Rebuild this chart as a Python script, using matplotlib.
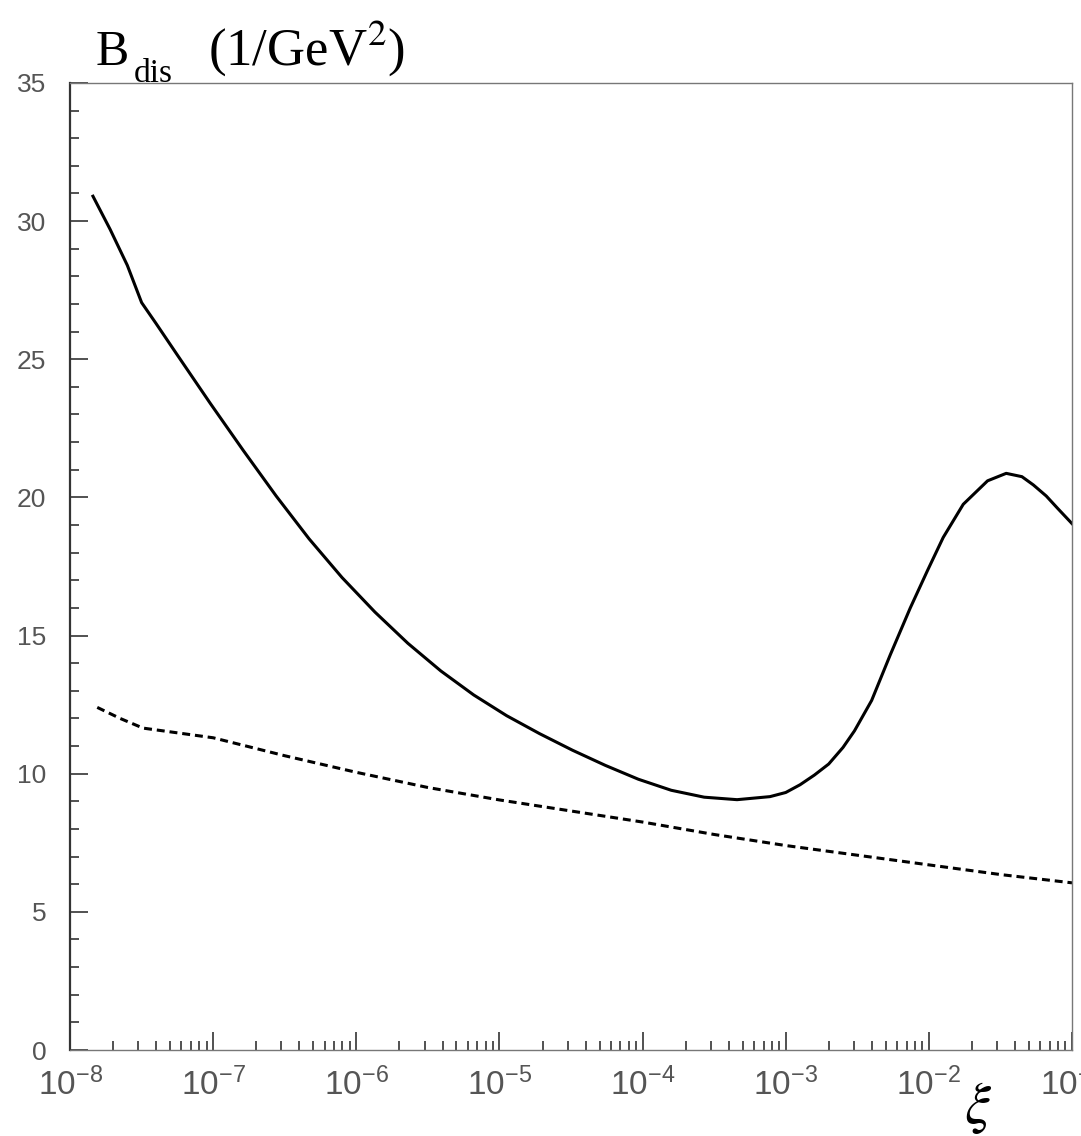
import numpy as np
import matplotlib
matplotlib.use("Agg")
import matplotlib.pyplot as plt
from matplotlib import ticker

plt.rcParams['font.family'] = ['Liberation Sans', 'DejaVu Sans']

# full curve: log10(xi) and B_dis (1/GeV^2)
log_xi_full = [-7.84, -7.72, -7.60, -7.50, -7.40, -7.25, -7.02, -6.79, -6.56,
               -6.33, -6.10, -5.87, -5.64, -5.41, -5.18, -4.95, -4.72, -4.49,
               -4.26, -4.03, -3.80, -3.57, -3.34, -3.11, -3.00, -2.90, -2.80,
               -2.70, -2.60, -2.52, -2.40, -2.27, -2.13, -2.01, -1.90, -1.76,
               -1.59, -1.46, -1.35, -1.27, -1.18, -1.10, -1.00]
b_full = [30.9, 29.7, 28.4, 27.05, 26.3, 25.15, 23.4, 21.7, 20.05,
          18.5, 17.1, 15.85, 14.72, 13.72, 12.85, 12.1, 11.45, 10.85,
          10.3, 9.8, 9.4, 9.15, 9.06, 9.17, 9.32, 9.6, 9.95,
          10.35, 10.95, 11.55, 12.65, 14.3, 16.0, 17.35, 18.55, 19.75,
          20.6, 20.87, 20.75, 20.45, 20.05, 19.6, 19.05]

# dashed curve
log_xi_dash = [-7.81, -7.65, -7.49, -7.0, -6.5, -6.0, -5.5, -5.0,
               -4.5, -4.0, -3.5, -3.0, -2.5, -2.0, -1.5, -1.0]
b_dash = [12.4, 12.0, 11.65, 11.3, 10.65, 10.05, 9.5, 9.05,
          8.65, 8.25, 7.8, 7.4, 7.05, 6.7, 6.35, 6.05]

xi_full = np.power(10.0, log_xi_full)
xi_dash = np.power(10.0, log_xi_dash)

fig = plt.figure(figsize=(10.81, 11.36), dpi=100)
ax = fig.add_axes([0.0648, 0.0757, 0.9269, 0.8513])

ax.plot(xi_full, b_full, color='black', lw=2.2, solid_joinstyle='round')
ax.plot(xi_dash, b_dash, color='black', lw=2.2, dashes=(2.6, 1.6))

ax.set_xscale('log')
ax.set_xlim(1e-8, 1e-1)
ax.set_ylim(0, 35)

ax.yaxis.set_major_locator(ticker.MultipleLocator(5))
ax.yaxis.set_minor_locator(ticker.MultipleLocator(1))
ax.xaxis.set_major_locator(ticker.LogLocator(base=10, numticks=20))
ax.xaxis.set_minor_locator(ticker.LogLocator(base=10, subs=np.arange(2, 10), numticks=20))
ax.xaxis.set_minor_formatter(ticker.NullFormatter())
ax.xaxis.set_major_formatter(ticker.FuncFormatter(
    lambda v, p: r'$\mathregular{10^{%d}}$' % int(round(np.log10(v)))))

ax.tick_params(axis='both', which='both', direction='in', top=False, right=False,
               color='#333333', width=1.2)
ax.tick_params(axis='both', which='major', length=13)
ax.tick_params(axis='both', which='minor', length=6.5)
ax.tick_params(axis='y', which='major', labelsize=19, labelcolor='#555555', pad=17)
ax.tick_params(axis='x', which='major', labelsize=24, labelcolor='#555555', pad=13)

ax.spines['left'].set_linewidth(1.6)
ax.spines['left'].set_color('#333333')
for s in ['top', 'right', 'bottom']:
    ax.spines[s].set_linewidth(1.0)
    ax.spines[s].set_color('#777777')

# axis title, built from pieces so the subscript sits low like the original
serif = ['Liberation Serif', 'DejaVu Serif']
fig.text(96 / 1081, 1 - 65 / 1136, 'B', fontsize=36, family=serif,
         ha='left', va='baseline')
fig.text(134 / 1081, 1 - 82 / 1136, 'dis', fontsize=24, family=serif,
         ha='left', va='baseline')
fig.text(208 / 1081, 1 - 65 / 1136, r'(1/GeV$^{2}$)', fontsize=38, family=serif,
         math_fontfamily='stix', ha='left', va='baseline')
fig.text(0.905, 0.025, r'$\xi$', fontsize=42, math_fontfamily='stix',
         ha='center', va='center')

fig.savefig('out.png', dpi=100)
